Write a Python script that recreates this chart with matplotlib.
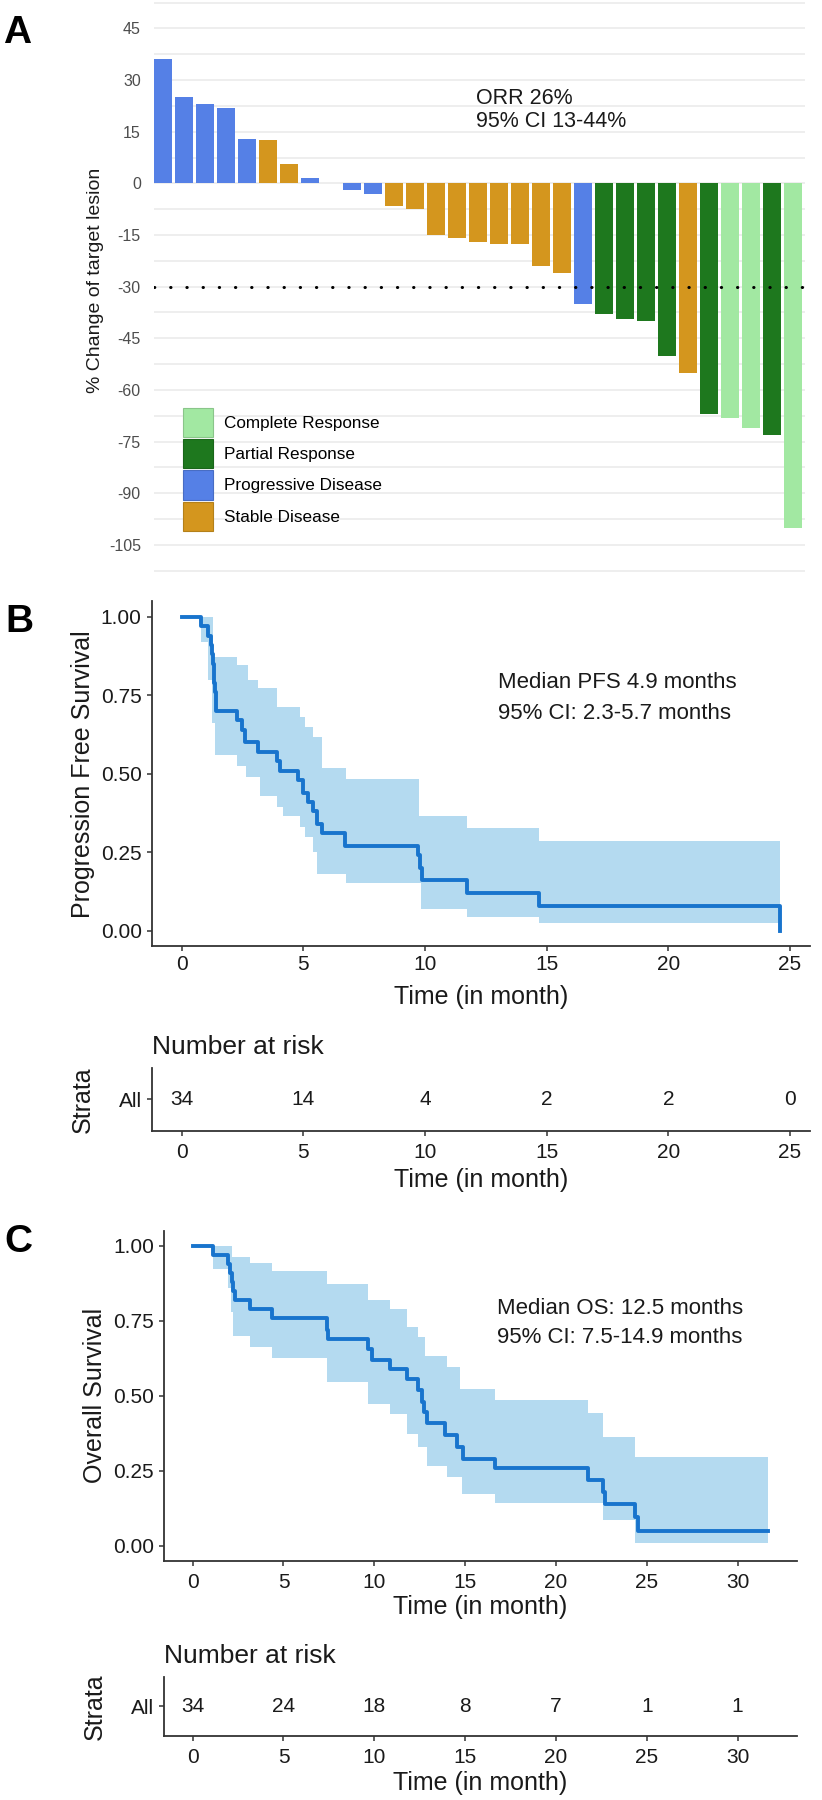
"""
Waterfall plot of target-lesion change (A) with Kaplan-Meier curves for
PFS (B) and OS (C), each followed by its number-at-risk table.
"""

import matplotlib
matplotlib.use("Agg")

import matplotlib.pyplot as plt
from matplotlib import transforms
from matplotlib.colors import to_rgb
from matplotlib.patches import Patch
import numpy as np

plt.rcParams["font.family"] = ["Liberation Sans", "DejaVu Sans"]
plt.rcParams["axes.unicode_minus"] = False

# ---------------------------------------------------------------------------
# Data
# ---------------------------------------------------------------------------

# Panel A: best % change of target lesion per patient (waterfall order)
change_pct = [36, 25, 23, 22, 13, 12.5, 5.5, 1.5, 0, -2, -3, -6.5, -7.5,
              -15, -16, -17, -17.5, -17.5, -24, -26, -35, -38, -39.5, -40,
              -50, -55, -67, -68, -71, -73, -100]
response = ["PD", "PD", "PD", "PD", "PD", "SD", "SD", "PD", "SD", "PD", "PD",
            "SD", "SD", "SD", "SD", "SD", "SD", "SD", "SD", "SD", "PD", "PR",
            "PR", "PR", "PR", "SD", "PR", "CR", "CR", "PR", "CR"]
response_codes = ["CR", "PR", "PD", "SD"]
response_labels = ["Complete Response", "Partial Response",
                   "Progressive Disease", "Stable Disease"]
response_colors = ["#a2e8a2", "#1e781e", "#5580e6", "#d4961e"]

# Panel B: progression free survival (step times / survival estimate)
pfs_time = [0, 0.78, 1.10, 1.20, 1.25, 1.28, 1.31, 1.34, 1.37, 1.39, 1.41,
            2.29, 2.47, 2.62, 3.15, 3.90, 4.04, 4.79, 5.00, 5.20, 5.41, 5.58,
            5.75, 6.71, 9.73, 9.80, 9.86, 11.71, 14.70, 24.60]
pfs_surv = [1.0, 0.97, 0.94, 0.91, 0.88, 0.85, 0.82, 0.79, 0.76, 0.73, 0.70,
            0.67, 0.64, 0.60, 0.57, 0.54, 0.51, 0.48, 0.44, 0.41, 0.38, 0.34,
            0.31, 0.27, 0.24, 0.20, 0.16, 0.12, 0.08, 0.0]
pfs_upper_time = [0, 1.30, 2.26, 2.74, 3.15, 3.90, 4.86, 5.07, 5.41, 5.75,
                  6.74, 9.77, 11.71, 14.70]
pfs_upper = [1.0, 0.873, 0.846, 0.798, 0.772, 0.713, 0.68, 0.65, 0.618,
             0.517, 0.483, 0.365, 0.326, 0.287]
pfs_lower_time = [0, 0.78, 1.10, 1.25, 1.37, 2.29, 2.66, 3.20, 3.90, 4.17,
                  4.86, 5.07, 5.40, 5.55, 6.74, 9.82, 11.71, 14.70]
pfs_lower = [1.0, 0.92, 0.80, 0.66, 0.56, 0.525, 0.49, 0.43, 0.395, 0.365,
             0.33, 0.30, 0.25, 0.18, 0.153, 0.068, 0.045, 0.023]
pfs_risk_time = [0, 5, 10, 15, 20, 25]
pfs_risk_n = [34, 14, 4, 2, 2, 0]

# Panel C: overall survival
os_time = [0, 1.10, 1.96, 2.05, 2.15, 2.24, 2.33, 3.15, 4.35, 7.38, 7.47,
           9.67, 9.85, 10.86, 11.78, 12.42, 12.60, 12.75, 12.88, 13.89, 14.54,
           14.87, 16.65, 21.79, 22.61, 22.71, 24.36, 24.54, 31.70]
os_surv = [1.0, 0.97, 0.94, 0.91, 0.88, 0.85, 0.82, 0.79, 0.76, 0.72, 0.69,
           0.655, 0.62, 0.59, 0.555, 0.52, 0.48, 0.445, 0.41, 0.37, 0.33,
           0.29, 0.26, 0.22, 0.18, 0.14, 0.095, 0.05, 0.05]
os_upper_time = [0, 2.15, 3.15, 4.35, 7.38, 9.67, 10.86, 11.78, 12.42, 12.79,
                 13.99, 14.72, 16.65, 21.79, 22.61, 24.36]
os_upper = [1.0, 0.961, 0.941, 0.917, 0.871, 0.819, 0.788, 0.728, 0.697,
            0.632, 0.597, 0.524, 0.486, 0.443, 0.363, 0.297]
os_lower_time = [0, 1.10, 1.96, 2.10, 2.24, 3.15, 4.35, 7.38, 9.67, 10.86,
                 11.78, 12.42, 12.88, 13.99, 14.81, 16.65, 22.61, 24.36]
os_lower = [1.0, 0.924, 0.86, 0.78, 0.699, 0.663, 0.627, 0.547, 0.474, 0.439,
            0.374, 0.33, 0.267, 0.23, 0.171, 0.141, 0.086, 0.01]
os_risk_time = [0, 5, 10, 15, 20, 25, 30]
os_risk_n = [34, 24, 18, 8, 7, 1, 1]

# ---------------------------------------------------------------------------
# Layout helpers (positions in output pixels, y measured from the top)
# ---------------------------------------------------------------------------

W, H = 822, 1800
fig = plt.figure(figsize=(W / 100, H / 100), dpi=100)
fig.patch.set_facecolor("white")
PX = transforms.Affine2D().scale(1, -1).translate(0, H)

AXIS_COL = "#333333"
TEXT_COL = "#1a1a1a"
LINE_COL = "#1874cd"
BAND_COL = "#b4daf0"


def add_axes_px(left, top, right, bottom):
    return fig.add_axes([left / W, 1 - bottom / H,
                         (right - left) / W, (bottom - top) / H])


def step_at(times, values, grid):
    idx = np.searchsorted(times, grid, side="right") - 1
    return np.asarray(values)[idx]


def darker(color, f=0.85):
    return tuple(c * f for c in to_rgb(color))


def style_axes(ax, xpad=5.6):
    for side in ["top", "right"]:
        ax.spines[side].set_visible(False)
    for side in ["left", "bottom"]:
        ax.spines[side].set_color(AXIS_COL)
        ax.spines[side].set_linewidth(1.3)
    ax.tick_params(axis="both", length=3.3, width=1.1, color=AXIS_COL,
                   labelsize=15, labelcolor=TEXT_COL)
    ax.tick_params(axis="x", pad=xpad)
    ax.tick_params(axis="y", pad=4)


def km_panel(ax, t, s, up_t, up, lo_t, lo, xticks, xpad):
    grid = np.unique(np.concatenate([up_t, lo_t, [t[-1]]]))
    ax.fill_between(grid, step_at(lo_t, lo, grid), step_at(up_t, up, grid),
                    step="post", color=BAND_COL, linewidth=0, zorder=1)
    ax.step(t, s, where="post", color=LINE_COL, linewidth=2.8, zorder=2)
    ax.set_xlim(-0.05 * t[-1], 1.05 * t[-1])
    ax.set_ylim(-0.05, 1.05)
    ax.set_xticks(xticks)
    ax.set_yticks([0, 0.25, 0.5, 0.75, 1.0])
    ax.set_yticklabels(["0.00", "0.25", "0.50", "0.75", "1.00"])
    style_axes(ax, xpad)


def risk_table(ax, times, counts, xmax, xticks):
    for t, n in zip(times, counts):
        ax.text(t, 1, str(n), ha="center", va="center", fontsize=15,
                color=TEXT_COL)
    ax.set_xlim(-0.05 * xmax, 1.05 * xmax)
    ax.set_ylim(0.5, 1.5)
    ax.set_xticks(xticks)
    ax.set_yticks([1])
    ax.set_yticklabels(["All"])
    style_axes(ax)
    ax.set_title("Number at risk", loc="left", fontsize=19, pad=10,
                 color=TEXT_COL)


def place_xlabel(ax, text, x, y):
    ax.set_xlabel(text, fontsize=18, color=TEXT_COL)
    ax.xaxis.set_label_coords(x, y, transform=PX)
    ax.xaxis.label.set_verticalalignment("center")


def place_ylabel(ax, text, x, y, size=18):
    ax.set_ylabel(text, fontsize=size, color=TEXT_COL)
    ax.yaxis.set_label_coords(x, y, transform=PX)
    ax.yaxis.label.set_verticalalignment("center")


# ---------------------------------------------------------------------------
# A: waterfall
# ---------------------------------------------------------------------------

axA = add_axes_px(154, 0.8, 805, 572.5)
color_of = dict(zip(response_codes, response_colors))
pos = np.arange(1, len(change_pct) + 1)
axA.bar(pos, change_pct, width=0.86,
        color=[color_of[r] for r in response], linewidth=0, zorder=2)
axA.axhline(-30, color="black", linestyle=(0, (0.1, 5.2)), linewidth=2.2,
            dash_capstyle="round", zorder=3)
axA.set_xlim(0.58, len(change_pct) + 0.58)
axA.set_ylim(-113, 53)
axA.set_xticks([])
axA.set_yticks(np.arange(-105, 46, 15))
axA.set_yticks(np.arange(-112.5, 53, 15), minor=True)
axA.grid(axis="y", which="both", color="#ebebeb", linewidth=1.2)
axA.set_axisbelow(True)
for side in axA.spines.values():
    side.set_visible(False)
axA.tick_params(axis="y", which="both", length=0, pad=9.5, labelsize=11.5,
                labelcolor="#4d4d4d")
place_ylabel(axA, "% Change of target lesion", 95.5, 280, size=14)

axA.text(15.9, 21.3, "ORR 26%\n95% CI 13-44%", fontsize=15.5, ha="left",
         va="center", linespacing=1.1, color=TEXT_COL)

handles = [Patch(facecolor=c, edgecolor=darker(c), linewidth=0.8, label=lab)
           for c, lab in zip(response_colors, response_labels)]
axA.legend(handles=handles, loc="upper left", bbox_to_anchor=(183, 408),
           bbox_transform=PX, frameon=False, borderpad=0, borderaxespad=0,
           fontsize=12.3, handlelength=1.75, handleheight=2.25,
           labelspacing=0.12, handletextpad=0.64)

# ---------------------------------------------------------------------------
# B: progression free survival
# ---------------------------------------------------------------------------

axB = add_axes_px(151.8, 601, 810.1, 946.4)
km_panel(axB, pfs_time, pfs_surv, pfs_upper_time, pfs_upper,
         pfs_lower_time, pfs_lower, pfs_risk_time, xpad=3.2)
place_xlabel(axB, "Time (in month)", 481, 996.7)
place_ylabel(axB, "Progression Free Survival", 83, 773.7)
axB.text(13.0, 0.79, "Median PFS 4.9 months", fontsize=16, va="center",
         color=TEXT_COL)
axB.text(13.0, 0.692, "95% CI: 2.3-5.7 months", fontsize=16, va="center",
         color=TEXT_COL)

axBr = add_axes_px(151.8, 1068, 810.1, 1130.7)
risk_table(axBr, pfs_risk_time, pfs_risk_n, pfs_time[-1], pfs_risk_time)
place_xlabel(axBr, "Time (in month)", 481, 1180)
place_ylabel(axBr, "Strata", 83, 1099.3)

# ---------------------------------------------------------------------------
# C: overall survival
# ---------------------------------------------------------------------------

axC = add_axes_px(163.9, 1230.7, 797.2, 1560.7)
km_panel(axC, os_time, os_surv, os_upper_time, os_upper,
         os_lower_time, os_lower, os_risk_time, xpad=5.6)
place_xlabel(axC, "Time (in month)", 480.5, 1607)
place_ylabel(axC, "Overall Survival", 94.5, 1395.7)
axC.text(16.73, 0.791, "Median OS: 12.5 months", fontsize=16, va="center",
         color=TEXT_COL)
axC.text(16.73, 0.695, "95% CI: 7.5-14.9 months", fontsize=16, va="center",
         color=TEXT_COL)

axCr = add_axes_px(163.9, 1676.7, 797.2, 1736)
risk_table(axCr, os_risk_time, os_risk_n, os_time[-1], os_risk_time)
place_xlabel(axCr, "Time (in month)", 480.5, 1783)
place_ylabel(axCr, "Strata", 94.5, 1706.3)

# panel letters
for letter, x, y in [("A", 3, 42.7), ("B", 5, 631.7), ("C", 4, 1252.5)]:
    fig.text(x, y, letter, transform=PX, fontsize=28, fontweight="bold",
             va="baseline", ha="left", color="black")

fig.savefig("out.png", dpi=100, facecolor="white")
